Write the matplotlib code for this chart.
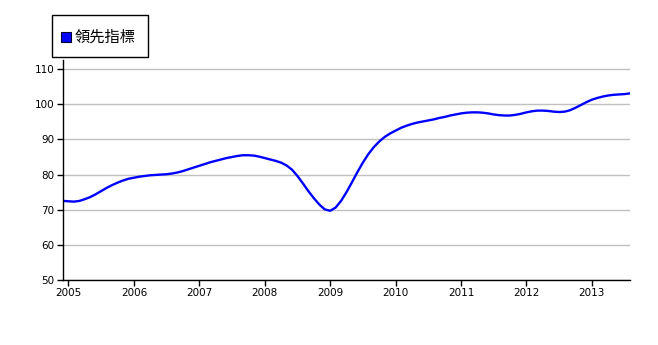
import matplotlib
matplotlib.use("Agg")
import matplotlib.pyplot as plt
from matplotlib.lines import Line2D
from matplotlib.patches import Rectangle
import numpy as np

# monthly values, Dec 2004 .. Jul 2013
start_year = 2004 + 11 / 12
values = [
    72.5, 72.4, 72.3, 72.5, 73.0, 73.6, 74.4, 75.3, 76.2, 77.0, 77.7, 78.3,
    78.8, 79.1, 79.4, 79.6, 79.8, 79.9, 80.0, 80.1, 80.3, 80.6, 81.0, 81.5,
    82.0, 82.5, 83.0, 83.5, 83.9, 84.3, 84.7, 85.0, 85.3, 85.5, 85.5, 85.4,
    85.1, 84.7, 84.3, 83.9, 83.4, 82.6, 81.4, 79.6, 77.5, 75.3, 73.3, 71.5,
    70.1, 69.7, 70.6, 72.5, 75.0, 77.8, 80.7, 83.4, 85.8, 87.8, 89.4, 90.7,
    91.7, 92.5, 93.3, 93.9, 94.4, 94.8, 95.1, 95.4, 95.7, 96.1, 96.4, 96.8,
    97.1, 97.4, 97.6, 97.7, 97.7, 97.6, 97.4, 97.1, 96.9, 96.8, 96.8, 97.0,
    97.3, 97.7, 98.0, 98.2, 98.2, 98.1, 97.9, 97.8, 97.9, 98.3, 99.0, 99.8,
    100.6, 101.3, 101.8, 102.2, 102.5, 102.7, 102.8, 102.9, 103.1,
]
series_label = "領先指標"
year_ticks = list(range(2005, 2014))
y_ticks = [50, 60, 70, 80, 90, 100, 110]

x = start_year + np.arange(len(values)) / 12

plt.rcParams["font.family"] = ["DejaVu Sans"]

W, H = 658, 345
fig = plt.figure(figsize=(W / 100, H / 100), dpi=100)
ax = fig.add_axes([63 / W, 1 - 280 / H, (630 - 63) / W, (280 - 60) / H])

ax.plot(x, values, color="#0000ff", lw=1.7, solid_capstyle="round")

ax.set_xlim(start_year, 2013 + 7 / 12)
ax.set_ylim(50, 112.6)
ax.set_xticks(year_ticks)
ax.set_xticklabels([str(y) for y in year_ticks])
ax.set_yticks(y_ticks)
ax.grid(axis="y", color="#c0c0c0", lw=1)
ax.set_axisbelow(True)

for s in ["top", "right"]:
    ax.spines[s].set_visible(False)
ax.spines["left"].set_linewidth(1)
ax.spines["bottom"].set_linewidth(1)
ax.tick_params(axis="both", labelsize=7.5, length=4, width=1, direction="out", pad=2)

# legend box drawn by hand (figure pixel positions)
def fx(px):
    return px / W

def fy(py):
    return 1 - py / H

fig.add_artist(Rectangle((fx(52), fy(57)), fx(148) - fx(52), fy(15) - fy(57),
                         transform=fig.transFigure, facecolor="white",
                         edgecolor="black", lw=1))
fig.add_artist(Line2D([fx(65.5)], [fy(37)], transform=fig.transFigure,
                      marker="s", linestyle="none", markersize=6.5,
                      markerfacecolor="#0000ff", markeredgecolor="#000033",
                      markeredgewidth=0.8))
fig.text(fx(75), fy(37), series_label, ha="left", va="center", fontsize=11,
         family=["Noto Sans CJK TC", "DejaVu Sans"])

fig.savefig("out.png", dpi=100)
